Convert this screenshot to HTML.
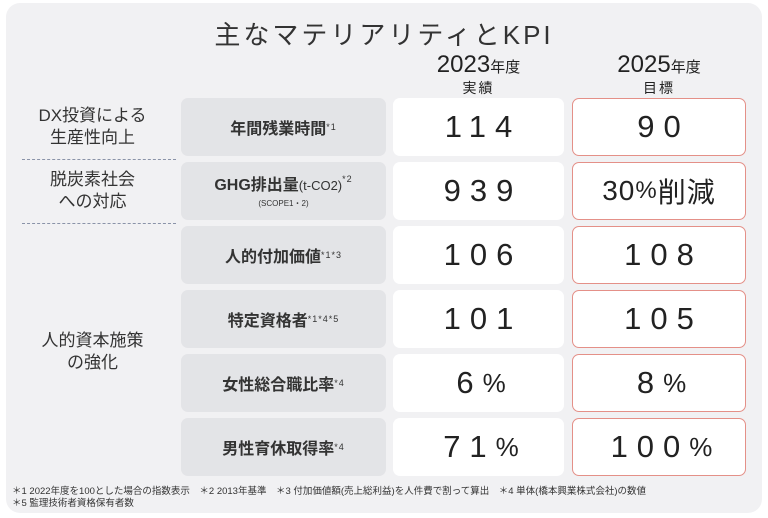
<!DOCTYPE html>
<html><head><meta charset="utf-8"><style>
*{margin:0;padding:0;box-sizing:border-box}
body{width:768px;height:518px;background:#fff;font-family:"Liberation Sans","Noto Sans CJK JP",sans-serif;color:#222;position:relative;overflow:hidden}
.panel{position:absolute;left:6px;top:3px;width:756px;height:510px;background:#f1f1f3;border-radius:14px}
.a{position:absolute;text-align:center}
.g{position:absolute;left:181px;width:205px;height:58px;background:#e3e4e7;border-radius:7px;display:flex;align-items:center;justify-content:center;font-size:16px;font-weight:bold;color:#333}
.w{position:absolute;left:393px;width:171px;height:58px;background:#fff;border-radius:7px;display:flex;align-items:center;justify-content:center;font-size:31px;letter-spacing:9px;padding-left:9px;color:#222}
.r{position:absolute;left:572px;width:174px;height:58px;background:#fff;border:1.5px solid #e49088;border-radius:7px;display:flex;align-items:center;justify-content:center;font-size:31px;letter-spacing:9px;padding-left:9px;color:#222}
sup{font-size:9px;font-weight:normal;vertical-align:8px;letter-spacing:1px}
.c{position:absolute;left:20px;width:145px;text-align:center;font-size:17px;line-height:22px;color:#333}
.d{position:absolute;left:22px;width:154px;border-top:1.5px dashed #8a93a8}
.pc{font-size:26px;letter-spacing:4px}
</style></head><body>
<div class="panel"></div>
<div class="a" style="left:0;width:768px;top:15px;font-size:26px;letter-spacing:3px;color:#333">主なマテリアリティとKPI</div>
<div class="a" style="left:393px;width:171px;top:52px;font-size:24px;line-height:26px">2023<span style="font-size:15px">年度</span></div>
<div class="a" style="left:393px;width:171px;top:78px;font-size:14px;letter-spacing:2px">実績</div>
<div class="a" style="left:572px;width:174px;top:52px;font-size:24px;line-height:26px">2025<span style="font-size:15px">年度</span></div>
<div class="a" style="left:572px;width:174px;top:78px;font-size:14px;letter-spacing:2px">目標</div>

<div class="c" style="top:105px">DX投資による<br>生産性向上</div>
<div class="d" style="top:159px"></div>
<div class="c" style="top:169px">脱炭素社会<br>への対応</div>
<div class="d" style="top:223px"></div>
<div class="c" style="top:330px">人的資本施策<br>の強化</div>

<div class="g" style="top:98px">年間残業時間<sup>*1</sup></div>
<div class="g" style="top:162px;flex-direction:column;line-height:18px"><div>GHG排出量<span style="font-size:13px;font-weight:normal">(t-CO2)</span><sup>*2</sup></div><div style="font-size:8px;font-weight:normal">(SCOPE1・2)</div></div>
<div class="g" style="top:226px">人的付加価値<sup>*1*3</sup></div>
<div class="g" style="top:290px">特定資格者<sup>*1*4*5</sup></div>
<div class="g" style="top:354px">女性総合職比率<sup> *4</sup></div>
<div class="g" style="top:418px">男性育休取得率<sup>*4</sup></div>

<div class="w" style="top:98px">114</div>
<div class="w" style="top:162px">939</div>
<div class="w" style="top:226px">106</div>
<div class="w" style="top:290px">101</div>
<div class="w" style="top:354px">6<span class="pc">%</span></div>
<div class="w" style="top:418px">71<span class="pc">%</span></div>

<div class="r" style="top:98px">90</div>
<div class="r" style="top:162px;letter-spacing:1px;padding-left:0;font-size:28px">30<span style="font-size:24px">%</span>削減</div>
<div class="r" style="top:226px">108</div>
<div class="r" style="top:290px">105</div>
<div class="r" style="top:354px">8<span class="pc">%</span></div>
<div class="r" style="top:418px">100<span class="pc">%</span></div>

<div style="position:absolute;left:12px;top:486px;font-size:9.5px;line-height:12px;color:#333;white-space:nowrap">＊1 2022年度を100とした場合の指数表示　＊2 2013年基準　＊3 付加価値額(売上総利益)を人件費で割って算出　＊4 単体(橋本興業株式会社)の数値<br>＊5 監理技術者資格保有者数</div>
</body></html>
